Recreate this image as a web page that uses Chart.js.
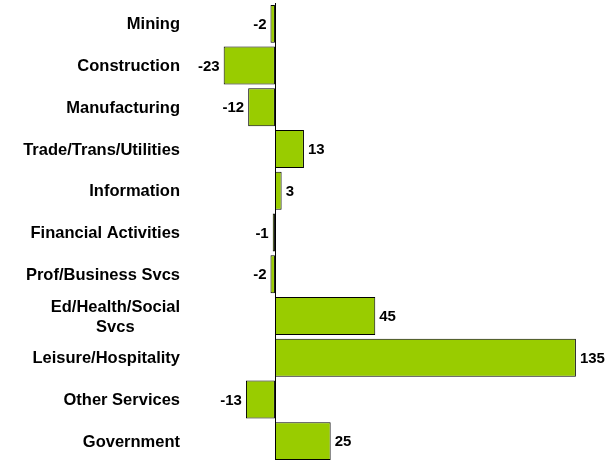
<!DOCTYPE html>
<html>
<head>
<meta charset="utf-8">
<script src="https://cdn.jsdelivr.net/npm/chart.js@4/dist/chart.umd.min.js"></script>
<style>
html,body{margin:0;padding:0;background:#fff;overflow:hidden;}
#wrap{width:612px;height:462px;}
</style>
</head>
<body>
<div id="wrap"><canvas id="c" width="612" height="462"></canvas></div>
<script>
const categories = [
  ["Mining"],
  ["Construction"],
  ["Manufacturing"],
  ["Trade/Trans/Utilities"],
  ["Information"],
  ["Financial Activities"],
  ["Prof/Business Svcs"],
  ["Ed/Health/Social", "Svcs"],
  ["Leisure/Hospitality"],
  ["Other Services"],
  ["Government"]
];
const values = [-2, -23, -12, 13, 3, -1, -2, 45, 135, -13, 25];

const FONT = '"Liberation Sans", Arial, sans-serif';

const customDraw = {
  id: 'customDraw',
  afterDatasetsDraw(chart) {
    const ctx = chart.ctx;
    const area = chart.chartArea;
    const xs = chart.scales.x;
    const ys = chart.scales.y;
    // zero line
    const x0 = Math.round(xs.getPixelForValue(0)) + 0.5;
    ctx.save();
    ctx.strokeStyle = '#000';
    ctx.lineWidth = 1;
    ctx.beginPath();
    ctx.moveTo(x0, area.top);
    ctx.lineTo(x0, area.bottom);
    ctx.stroke();
    // value labels
    const meta = chart.getDatasetMeta(0);
    ctx.font = 'bold 15px ' + FONT;
    ctx.fillStyle = '#000';
    ctx.textBaseline = 'middle';
    meta.data.forEach((bar, i) => {
      const v = values[i];
      if (v >= 0) {
        ctx.textAlign = 'left';
        ctx.fillText(String(v), bar.x + 4, bar.y + 1);
      } else {
        ctx.textAlign = 'right';
        ctx.fillText(String(v), bar.x - 4, bar.y + 1);
      }
    });
    // category labels
    ctx.font = 'bold 16.5px ' + FONT;
    const rightEdge = 180;
    const lh = 20;
    categories.forEach((lines, i) => {
      const y = ys.getPixelForValue(i);
      const widths = lines.map(l => ctx.measureText(l).width);
      const bw = Math.max(...widths);
      const cx = rightEdge - bw / 2;
      ctx.textAlign = 'center';
      lines.forEach((l, j) => {
        const ly = y + (j - (lines.length - 1) / 2) * lh + 1;
        ctx.fillText(l, cx, ly);
      });
    });
    ctx.restore();
  }
};

new Chart(document.getElementById('c'), {
  type: 'bar',
  data: {
    labels: categories.map(c => c.join(' ')),
    datasets: [{
      data: values,
      backgroundColor: '#99CC00',
      borderColor: '#000000',
      borderWidth: 1,
      borderSkipped: false,
      barPercentage: 0.91,
      categoryPercentage: 1.0
    }]
  },
  options: {
    indexAxis: 'y',
    responsive: false,
    animation: false,
    devicePixelRatio: 1,
    layout: { padding: { left: 188, right: 4, top: 3, bottom: 0 } },
    plugins: { legend: { display: false }, tooltip: { enabled: false } },
    scales: {
      x: { display: false, min: -39, max: 149.4 },
      y: { display: false }
    }
  },
  plugins: [customDraw]
});
</script>
</body>
</html>
